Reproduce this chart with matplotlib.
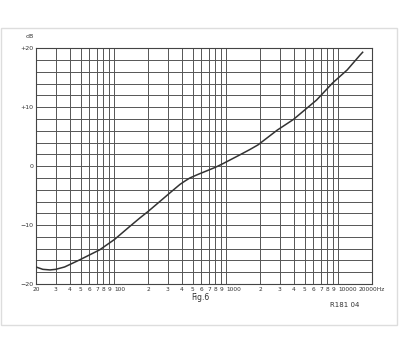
import numpy as np
import matplotlib.pyplot as plt
from matplotlib.patches import Rectangle

# response curve (Hz, dB)
freq = [20, 23, 26.7, 30, 36, 49, 74, 101, 138, 169, 200, 255, 320, 386, 430, 474,
        560, 670, 800, 930, 1320, 1620, 1920, 2850, 3970, 6400, 8900, 12000, 15600, 16500]
level = [-17.1, -17.5, -17.6, -17.5, -17.1, -15.9, -14.2, -12.4, -10.2, -8.8, -7.7,
         -6.0, -4.4, -3.1, -2.5, -2.0, -1.4, -0.8, -0.2, 0.4, 1.9, 2.8, 3.6, 6.1, 7.9, 11.2,
         14.1, 16.3, 18.8, 19.3]

yticks = [-20, -10, 0, 10, 20]
ylabels = ['\u221220', '\u221210', '0', '+10', '+20']
xticks = [20, 30, 40, 50, 60, 70, 80, 90, 100,
          200, 300, 400, 500, 600, 700, 800, 900, 1000,
          2000, 3000, 4000, 5000, 6000, 7000, 8000, 9000, 10000, 20000]
xlabels = ['20', '3', '4', '5', '6', '7', '8', '9', '100',
           '2', '3', '4', '5', '6', '7', '8', '9', '1000',
           '2', '3', '4', '5', '6', '7', '8', '9', '10000', '20000Hz']


def drawChart():
    fig = plt.figure(figsize=(4, 3.39), dpi=100)
    ax = fig.add_axes([0.09, 0.162, 0.84, 0.696])

    ax.set_xscale('log')
    ax.set_xlim(20, 20000)
    ax.set_ylim(-20, 20)

    # log paper grid
    gridX = [m * 10 ** d for d in range(1, 5) for m in range(1, 10)]
    gridX = [g for g in gridX if 20 <= g <= 20000]
    for g in gridX:
        ax.axvline(g, color='#555555', lw=0.7, zorder=1)
    for h in range(-20, 21, 2):
        ax.axhline(h, color='#555555', lw=0.7, zorder=1)

    ax.plot(freq, level, color='#333333', lw=1.1, zorder=3,
            solid_joinstyle='round')

    ax.set_yticks(yticks)
    ax.set_yticklabels(ylabels, fontsize=4.5)
    ax.set_xticks(xticks)
    ax.set_xticklabels(xlabels, fontsize=4.2)
    # decade labels start at their line, as on the printed paper
    for lab, txt in zip(ax.get_xticklabels(), xlabels):
        if txt in ('100', '1000', '10000'):
            lab.set_horizontalalignment('left')
    ax.minorticks_off()
    ax.tick_params(length=0, pad=2, colors='#333333')
    for s in ax.spines.values():
        s.set_color('#444444')
        s.set_linewidth(0.8)

    ax.text(-0.02, 1.045, 'dB', transform=ax.transAxes, fontsize=4.5,
            ha='center', color='#333333')
    fig.text(0.5, 0.115, 'Fig.6', fontsize=5.5, ha='center', color='#333333')
    fig.text(0.862, 0.095, 'R181 04', fontsize=5, ha='center', color='#333333')

    # light frame of the scanned page
    fig.patches.append(Rectangle((0.003, 0.041), 0.99, 0.876, transform=fig.transFigure,
                                 fill=False, ec='#dddddd', lw=1))

    fig.savefig('out.png', dpi=100)


if __name__ == '__main__':
    drawChart()
